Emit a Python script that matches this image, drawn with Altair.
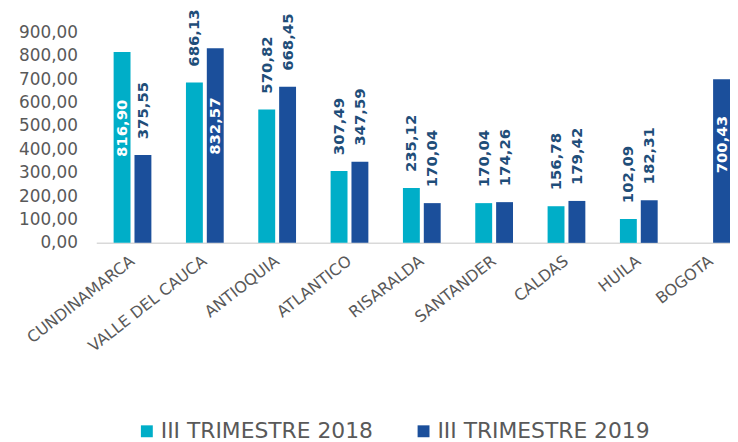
import altair as alt
import pandas as pd

categories = ["CUNDINAMARCA", "VALLE DEL CAUCA", "ANTIOQUIA", "ATLANTICO", "RISARALDA",
              "SANTANDER", "CALDAS", "HUILA", "BOGOTA"]
series = ["III TRIMESTRE 2018", "III TRIMESTRE 2019"]
values_2018 = [816.90, 686.13, 570.82, 307.49, 235.12, 170.04, 156.78, 102.09, None]
values_2019 = [375.55, 832.57, 668.45, 347.59, 170.04, 174.26, 179.42, 182.31, 700.43]
y_ticks = [0, 100, 200, 300, 400, 500, 600, 700, 800, 900]
colors = ["#00AEC8", "#1B4F9B"]

rows = []
for c, a, b in zip(categories, values_2018, values_2019):
    if a is not None:
        rows.append({"dep": c, "serie": series[0], "valor": a})
    if b is not None:
        rows.append({"dep": c, "serie": series[1], "valor": b})
df = pd.DataFrame(rows)

FONT = "DejaVu Sans"
GRAY = "#595959"

x_enc = alt.X("dep:N", sort=categories,
              scale=alt.Scale(paddingInner=0.478, paddingOuter=0.12, align=1),
              axis=alt.Axis(title=None, labelAngle=-38, labelAlign="right",
                            labelBaseline="middle", labelPadding=16, ticks=False,
                            domainColor="#D9D9D9", domainWidth=1.5, labelFontSize=16,
                            labelColor=GRAY, labelFont=FONT, labelLimit=300))
xo_enc = alt.XOffset("serie:N", sort=series,
                     scale=alt.Scale(paddingInner=0.19, paddingOuter=0))

y_scale = alt.Scale(domain=[0, 900], nice=False)
y_axis = alt.Axis(values=y_ticks, tickCount=10, grid=False, ticks=False, domain=False,
                  labelPadding=19, labelFontSize=17, labelColor=GRAY,
                  labelFont=FONT, labelOverlap=False,
                  labelExpr="replace(format(datum.value, '.2f'), '.', ',')")

base = alt.Chart(df).encode(x=x_enc, xOffset=xo_enc)

bars = base.mark_bar().encode(
    y=alt.Y("valor:Q", title=None, scale=y_scale, axis=y_axis),
    color=alt.Color("serie:N", scale=alt.Scale(domain=series, range=colors),
                    legend=alt.Legend(orient="none", legendX=40, legendY=391,
                                      direction="horizontal", columns=2, title=None,
                                      symbolType="square", symbolSize=144,
                                      symbolStrokeWidth=0, labelFontSize=22,
                                      labelColor=GRAY, labelFont=FONT, labelLimit=400,
                                      columnPadding=39, labelOffset=3)),
)

outside = base.transform_filter("datum.valor <= 690").transform_calculate(
    txt="replace(format(datum.valor, '.2f'), '.', ',')"
).mark_text(angle=270, align="left", baseline="middle", dx=16, font=FONT,
            fontWeight="bold", fontSize=15, color="#1F4E79").encode(
    y=alt.Y("valor:Q", title=None, scale=y_scale, axis=y_axis), text="txt:N")

inside = base.transform_filter("datum.valor > 690").transform_calculate(
    txt="replace(format(datum.valor, '.2f'), '.', ',')",
    ypos="datum.valor * 0.6"
).mark_text(angle=270, align="center", baseline="middle", font=FONT,
            fontWeight="bold", fontSize=15, color="white").encode(
    y=alt.Y("ypos:Q", title=None, scale=y_scale, axis=y_axis), text="txt:N")

chart = alt.layer(bars, outside, inside).properties(
    width=639, height=212,
    padding={"left": 89, "top": 23, "right": 0, "bottom": 199},
    autosize=alt.AutoSizeParams(type="none"),
).configure_view(stroke=None).configure_axis(grid=False)

chart.save("out.html", embed_options={"renderer": "svg", "actions": False})
